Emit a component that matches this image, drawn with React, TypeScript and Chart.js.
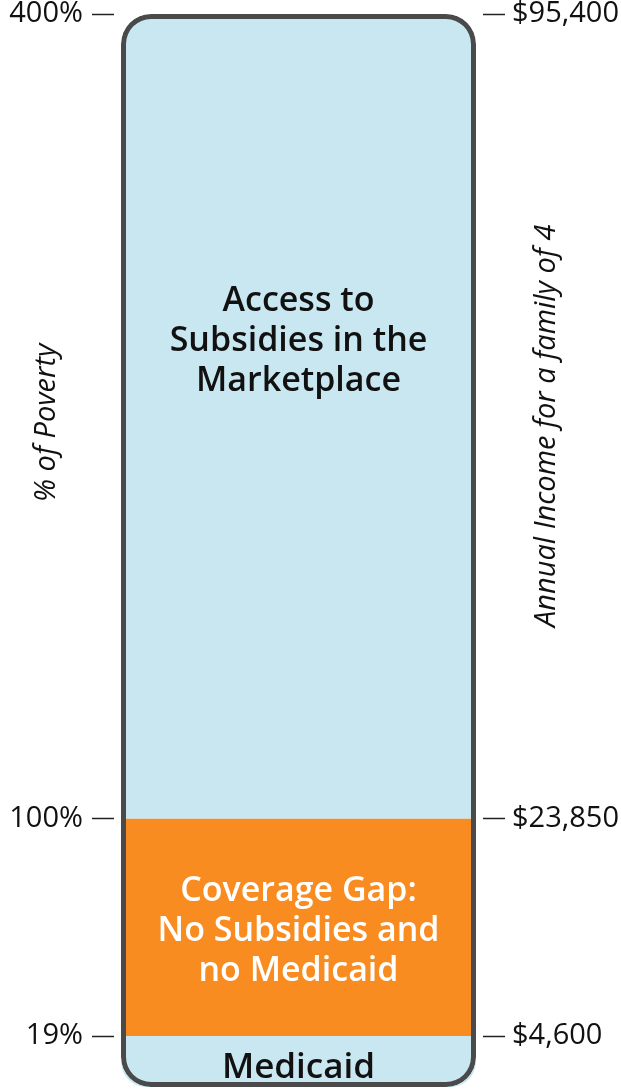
import { useEffect, useRef } from "react"
import { Chart, registerables } from "chart.js"

Chart.register(...registerables)

// band edges in % of poverty
const bounds = [0, 19, 100, 400]
const bandColors = ["#c8e7f1", "#f98c20", "#c8e7f1"]
const bandLabels = [
  ["Medicaid"],
  ["Coverage Gap:", "No Subsidies and", "no Medicaid"],
  ["Access to", "Subsidies in the", "Marketplace"],
]
const bandLabelColors = ["#111111", "#ffffff", "#111111"]
// where each band's text sits (in % of poverty)
const bandLabelAt = [7, 58, 278]

const povertyTicks = [19, 100, 400]
const povertyTickLabels = ["19%", "100%", "400%"]
const incomeTickLabels = ["$4,600", "$23,850", "$95,400"]

const FONT = "'Open Sans', 'Noto Sans', sans-serif"

const bandTextPlugin = {
  id: "bandText",
  afterDatasetsDraw(chart: Chart) {
    const { ctx, chartArea } = chart
    const y = chart.scales.y
    const outline = chart.getDatasetMeta(0).data[0] as any
    const cx = outline.x
    ctx.save()
    ctx.textAlign = "center"
    ctx.textBaseline = "middle"
    bandLabels.forEach((lines, i) => {
      ctx.font = `600 ${i === 0 ? 35 : 34}px ${FONT}`
      ctx.fillStyle = bandLabelColors[i]
      const cy = y.getPixelForValue(bandLabelAt[i])
      const lh = 40
      lines.forEach((line, j) => {
        ctx.fillText(line, cx, cy + (j - (lines.length - 1) / 2) * lh)
      })
    })

    // axis titles, both reading bottom to top
    ctx.font = `italic 29px ${FONT}`
    ctx.fillStyle = "#111111"
    const titleY = chartArea.top + (chartArea.bottom - chartArea.top) * 0.381
    ctx.save()
    ctx.translate(chartArea.left - 67, titleY)
    ctx.rotate(-Math.PI / 2)
    ctx.fillText("% of Poverty", 0, 0)
    ctx.restore()
    ctx.translate(chartArea.right + 64, titleY + 3)
    ctx.rotate(-Math.PI / 2)
    ctx.fillText("Annual Income for a family of 4", 0, 0)
    ctx.restore()
  },
}

export default function App() {
  const chartRef = useRef<HTMLCanvasElement>(null)
  const chartInstance = useRef<Chart | null>(null)

  useEffect(() => {
    document.body.style.margin = "0"
    if (!chartRef.current) return
    if (chartInstance.current) chartInstance.current.destroy()

    const ctx = chartRef.current.getContext("2d")
    if (!ctx) return

    const bands = bounds.slice(0, -1).map((lo, i) => {
      const last = i === bounds.length - 2
      const first = i === 0
      const r = 30
      return {
        data: [[lo, bounds[i + 1]]],
        backgroundColor: bandColors[i],
        borderWidth: 0,
        borderSkipped: false,
        borderRadius: {
          topLeft: last ? r : 0,
          topRight: last ? r : 0,
          bottomLeft: first ? r : 0,
          bottomRight: first ? r : 0,
        },
        grouped: false,
        order: 1,
      }
    })

    const tickGrid = {
      drawOnChartArea: false,
      drawTicks: true,
      tickLength: 22,
      tickWidth: 1.5,
      tickColor: "#222222",
    }

    chartInstance.current = new Chart(ctx, {
      type: "bar",
      data: {
        labels: [""],
        datasets: [
          {
            data: [[bounds[0], bounds[bounds.length - 1]]],
            backgroundColor: "rgba(0,0,0,0)",
            borderColor: "#4a4a4a",
            borderWidth: 5,
            borderSkipped: false,
            borderRadius: 30,
            grouped: false,
            order: 0,
          },
          ...bands,
        ] as any,
      },
      options: {
        animation: false,
        responsive: true,
        maintainAspectRatio: false,
        layout: { padding: { top: 14, bottom: 2, left: 0, right: 0 } },
        plugins: {
          legend: { display: false },
          tooltip: { enabled: false },
        },
        datasets: {
          bar: { categoryPercentage: 1, barPercentage: 0.962 },
        },
        scales: {
          x: { display: false },
          y: {
            position: "left",
            min: 0,
            max: 400,
            border: { display: false },
            grid: tickGrid,
            afterBuildTicks: (scale: any) => {
              scale.ticks = povertyTicks.map((v) => ({ value: v }))
            },
            afterFit: (scale: any) => {
              scale.width = 114
              scale.paddingTop = 0
              scale.paddingBottom = 0
            },
            ticks: {
              padding: 9,
              color: "#111111",
              font: { family: FONT, size: 29 },
              callback: (v: any) => povertyTickLabels[povertyTicks.indexOf(Number(v))],
            },
          },
          y2: {
            position: "right",
            min: 0,
            max: 400,
            border: { display: false },
            grid: tickGrid,
            afterBuildTicks: (scale: any) => {
              scale.ticks = povertyTicks.map((v) => ({ value: v }))
            },
            afterFit: (scale: any) => {
              scale.width = 138
              scale.paddingTop = 0
              scale.paddingBottom = 0
            },
            ticks: {
              padding: 7,
              color: "#111111",
              font: { family: FONT, size: 29 },
              callback: (v: any) => incomeTickLabels[povertyTicks.indexOf(Number(v))],
            },
          },
        },
      } as any,
      plugins: [bandTextPlugin],
    })

    return () => {
      if (chartInstance.current) {
        chartInstance.current.destroy()
        chartInstance.current = null
      }
    }
  }, [])

  return (
    <div style={{ width: 621, height: 1089, position: "relative" }}>
      <canvas ref={chartRef} />
    </div>
  )
}
